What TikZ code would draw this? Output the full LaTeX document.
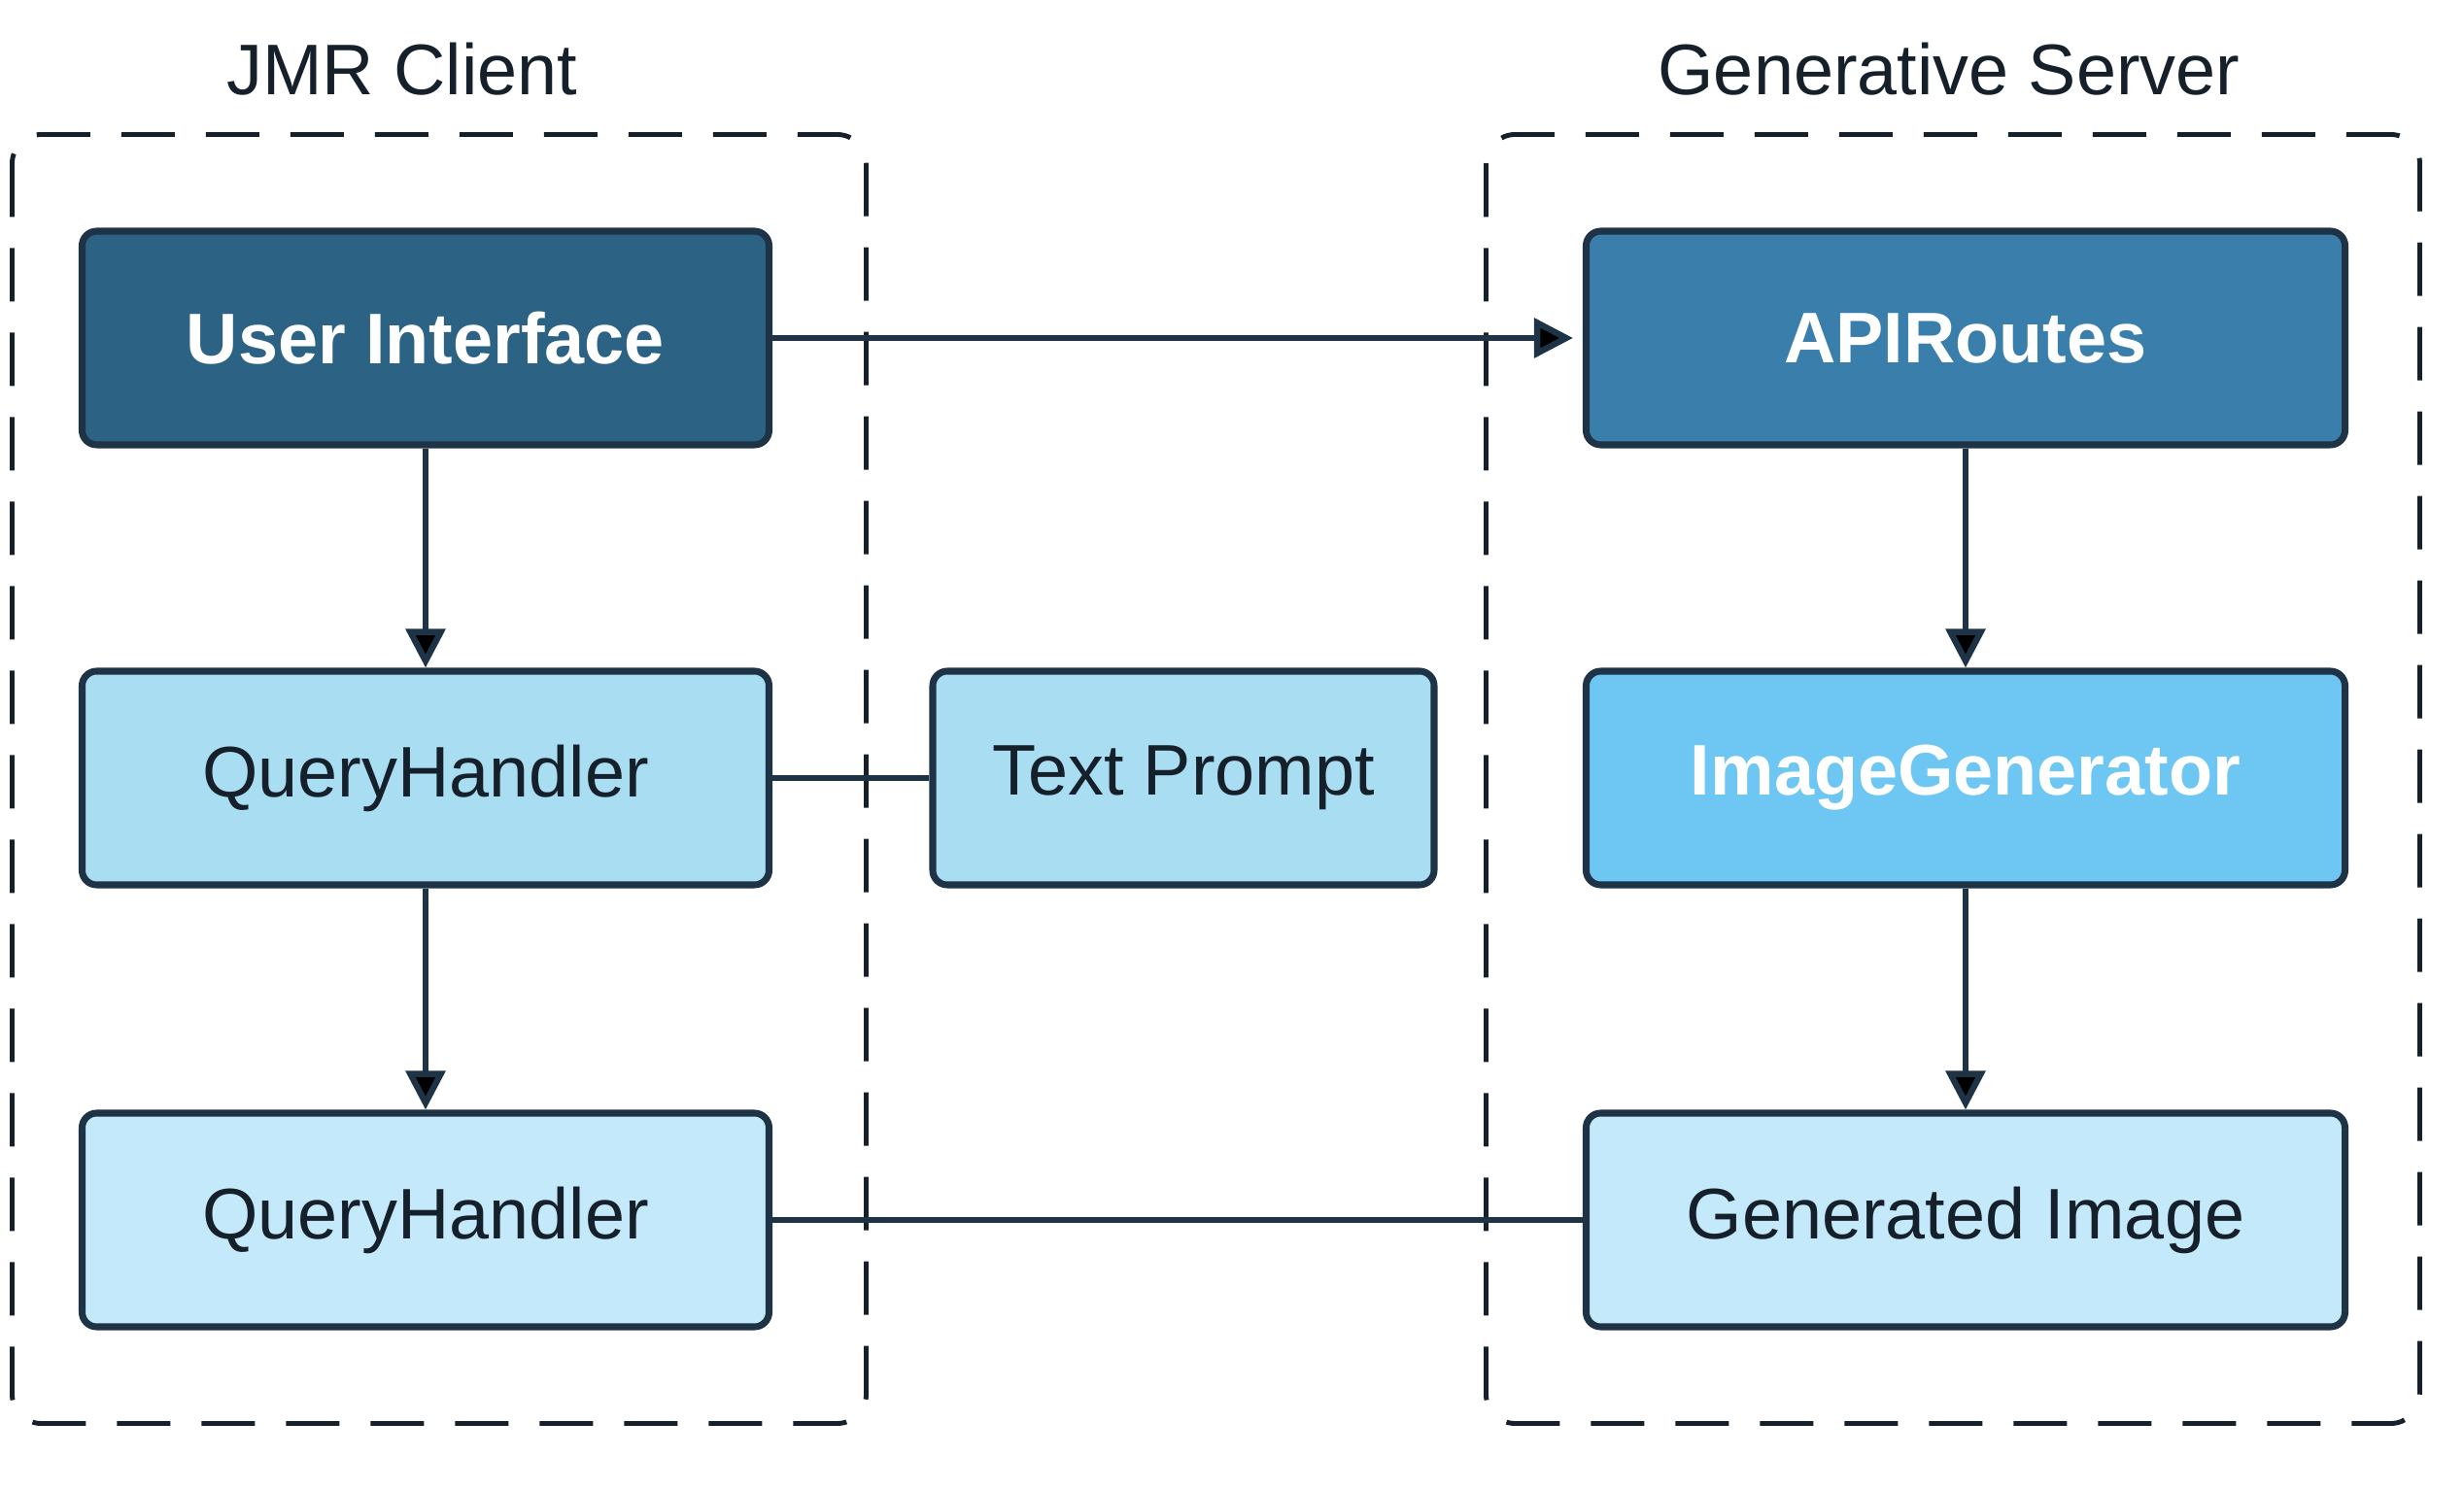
\documentclass[tikz,border=0pt]{standalone}
\usepackage{fontspec}
\setmainfont{Liberation Sans}
\usetikzlibrary{arrows.meta,positioning}

\definecolor{uidark}{HTML}{2C6283}
\definecolor{apiblue}{HTML}{3A7FAC}
\definecolor{genblue}{HTML}{6EC6F2}
\definecolor{qhblue}{HTML}{A8DDF2}
\definecolor{paleblue}{HTML}{C3E9FA}
\definecolor{edgedark}{HTML}{1E3446}
\definecolor{textdark}{HTML}{16202B}

\begin{document}
\begin{tikzpicture}[>={Triangle[length=0.4cm,width=0.4cm]}]
        \fontsize{21}{25}\selectfont
        \tikzstyle{box} = [rectangle,draw=edgedark,line width=2pt,rounded corners=0.15cm,minimum height=2.2cm]
        \tikzstyle{cli} = [box,minimum width=7.07cm]
        \tikzstyle{srv} = [box,minimum width=7.81cm]
        \tikzstyle{lite} = [text=textdark]
        \tikzstyle{strong} = [text=white,font=\bfseries]
        \tikzstyle{grp} = [draw=textdark,line width=1.4pt,dash pattern=on 0.55cm off 0.32cm,rounded corners=0.3cm]
        \tikzstyle{link} = [draw=edgedark,line width=1.8pt]

        \useasboundingbox (0,0) rectangle (25.36,-15.34);

        % client side
        \node[cli,fill=uidark,strong] (ui) at (4.38,-3.48) {User Interface};
        \node[cli,fill=qhblue,lite,below of=ui,node distance=4.53cm] (qh1) {QueryHandler};
        \node[cli,fill=paleblue,lite,below of=qh1,node distance=4.55cm] (qh2) {QueryHandler};
        \node[box,fill=qhblue,lite,minimum width=5.16cm,right of=qh1,node distance=7.8cm] (prompt) {Text Prompt};

        % server side
        \node[srv,fill=apiblue,strong,right of=ui,node distance=15.85cm] (api) {APIRoutes};
        \node[srv,fill=genblue,strong,below of=api,node distance=4.53cm] (gen) {ImageGenerator};
        \node[srv,fill=paleblue,lite,below of=gen,node distance=4.55cm] (img) {Generated Image};

        % groups
        \coordinate[above left=0.96cm and 0.685cm of ui.north west] (g11);
        \coordinate[below right=0.96cm and 0.965cm of qh2.south east] (g12);
        \draw[grp] (g11) rectangle (g12);
        \node[text=textdark] (client) at (4.14,-0.71) {JMR Client};

        \coordinate[above left=0.96cm and 0.995cm of api.north west] (g21);
        \coordinate[below right=0.96cm and 0.735cm of img.south east] (g22);
        \draw[grp] (g21) rectangle (g22);
        \node[text=textdark] (server) at (20.06,-0.71) {Generative Server};

        % links
        \path[link,->] (ui) edge (qh1);
        \path[link,->] (qh1) edge (qh2);
        \path[link,->,shorten >=0.1cm] (ui) edge (api);
        \path[link,->] (api) edge (gen);
        \path[link,->] (gen) edge (img);
        \path[link] (qh1) edge (prompt);
        \path[link] (qh2) edge (img);
      \end{tikzpicture}
\end{document}
